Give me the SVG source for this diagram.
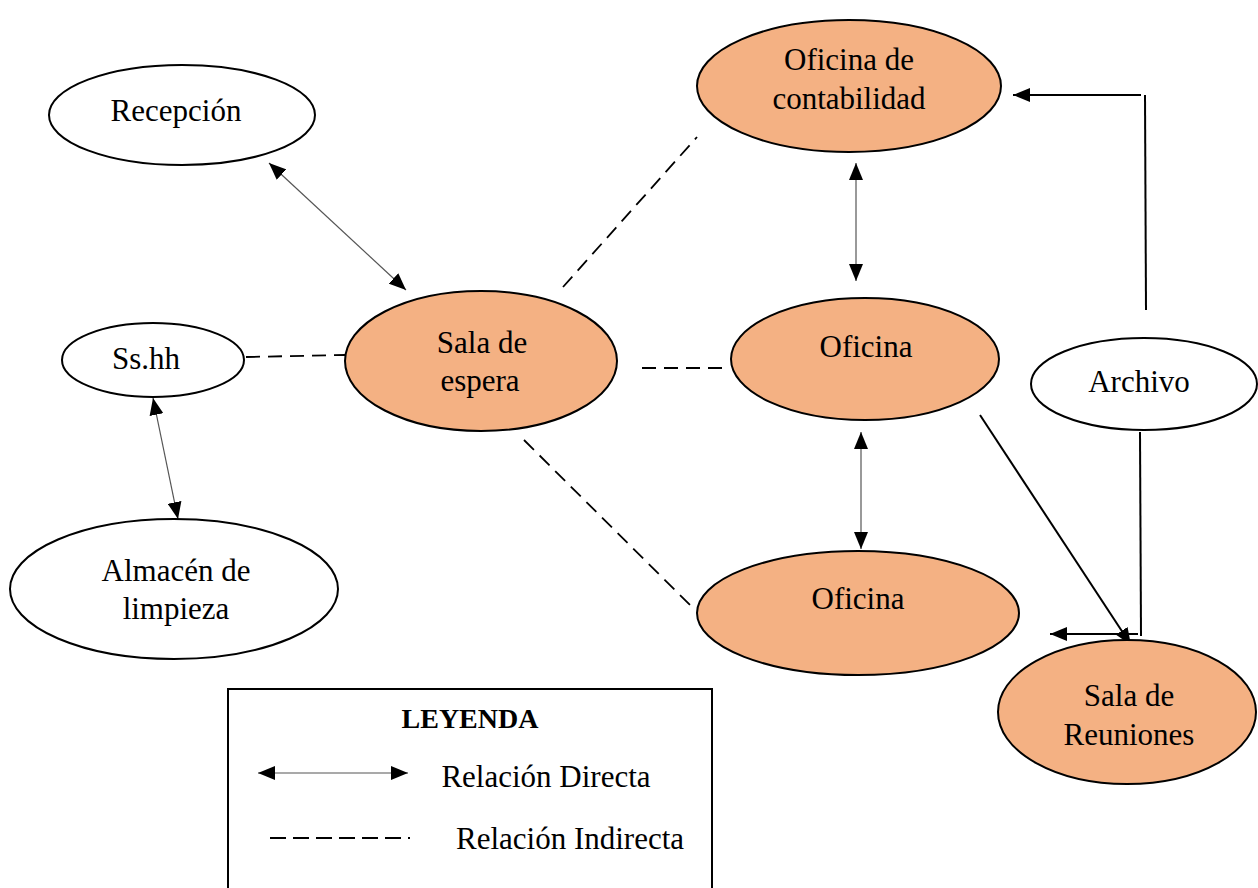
<svg xmlns="http://www.w3.org/2000/svg" width="1258" height="888" viewBox="0 0 1258 888">
<style>
.n{stroke:#000;stroke-width:2}
.w{fill:#fff}
.o{fill:#F4B183}
text{font-family:"Liberation Serif","Times New Roman",serif;font-size:31px;fill:#000;text-anchor:middle}
.b{font-weight:bold;font-size:28px}
.d{stroke:#000;stroke-width:1.8;stroke-dasharray:14 8;fill:none}
.a{stroke:#555;stroke-width:1.2;fill:none}
.s{stroke:#000;stroke-width:2;fill:none}
</style>
<defs>
<marker id="ah" viewBox="0 0 17 14" refX="17" refY="7" markerWidth="17" markerHeight="14" markerUnits="userSpaceOnUse" orient="auto-start-reverse">
<path d="M0,0 L17,7 L0,14 Z" fill="#000"/>
</marker>
</defs>
<rect x="228" y="689" width="484" height="210" fill="#fff" stroke="#000" stroke-width="2"/>
<g id="connectors">
<line class="a" x1="269" y1="163" x2="406" y2="290" marker-start="url(#ah)" marker-end="url(#ah)"/>
<line class="a" x1="153" y1="398" x2="178" y2="519" marker-start="url(#ah)" marker-end="url(#ah)"/>
<line class="a" x1="856" y1="163" x2="856" y2="281" marker-start="url(#ah)" marker-end="url(#ah)"/>
<line class="a" x1="861" y1="432" x2="861" y2="549" marker-start="url(#ah)" marker-end="url(#ah)"/>
<line class="d" x1="246" y1="357" x2="345" y2="355"/>
<line class="d" x1="642" y1="368" x2="730" y2="368"/>
<line class="d" x1="563" y1="287" x2="697" y2="137"/>
<line class="d" x1="524" y1="440" x2="695" y2="610"/>
<line class="s" x1="1146" y1="310" x2="1145" y2="95"/>
<line class="s" x1="1141" y1="95" x2="1013" y2="95" marker-end="url(#ah)"/>
<line class="s" x1="1140" y1="432" x2="1141" y2="636"/>
<line class="s" x1="1138" y1="634" x2="1050" y2="634" marker-end="url(#ah)"/>
<line class="s" x1="980" y1="415" x2="1131" y2="645" marker-end="url(#ah)"/>
<line class="a" x1="258" y1="773" x2="408" y2="773" marker-start="url(#ah)" marker-end="url(#ah)"/>
<line class="d" x1="270" y1="838" x2="410" y2="838" style="stroke-dasharray:16 7"/>
</g>
<g id="recepcion"><ellipse class="n w" cx="182" cy="115" rx="133" ry="50"/><text x="176" y="121">Recepción</text></g>
<g id="contabilidad"><ellipse class="n o" cx="849" cy="86" rx="152" ry="66"/><text x="849" y="70">Oficina de</text><text x="849" y="109">contabilidad</text></g>
<g id="sshh"><ellipse class="n w" cx="153" cy="360" rx="91" ry="37"/><text x="146" y="369">Ss.hh</text></g>
<g id="sala-espera"><ellipse class="n o" cx="481" cy="361" rx="136" ry="70"/><text x="482" y="353">Sala de</text><text x="480" y="391">espera</text></g>
<g id="oficina1"><ellipse class="n o" cx="865" cy="359" rx="134" ry="61"/><text x="866" y="357">Oficina</text></g>
<g id="archivo"><ellipse class="n w" cx="1144" cy="384" rx="113" ry="46"/><text x="1139" y="392">Archivo</text></g>
<g id="almacen"><ellipse class="n w" cx="174" cy="589" rx="164" ry="70"/><text x="176" y="581">Almacén de</text><text x="176" y="619">limpieza</text></g>
<g id="oficina2"><ellipse class="n o" cx="858" cy="613" rx="161" ry="62"/><text x="858" y="609">Oficina</text></g>
<g id="sala-reuniones"><ellipse class="n o" cx="1127" cy="712" rx="129" ry="72"/><text x="1129" y="706">Sala de</text><text x="1129" y="745">Reuniones</text></g>
<g id="leyenda">
<text class="b" x="470" y="728">LEYENDA</text>
<text x="546" y="787">Relación Directa</text>
<text x="570" y="849">Relación Indirecta</text>
</g>
</svg>
